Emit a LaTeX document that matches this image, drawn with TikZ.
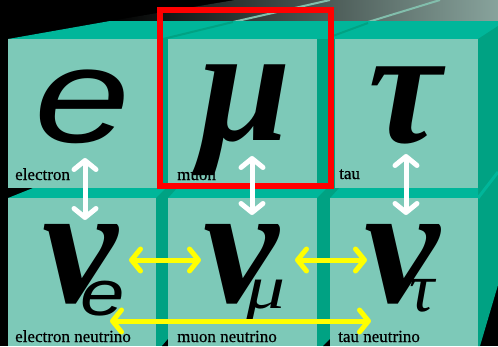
\documentclass[tikz,border=0pt]{standalone}
\usepackage{fontspec}
\setmainfont{Liberation Serif}
\newfontfamily\sansfam{Liberation Sans}
\usetikzlibrary{arrows.meta}
\definecolor{facec}{RGB}{125,201,184}
\definecolor{topc}{RGB}{0,182,154}
\definecolor{sidec}{RGB}{0,162,131}
\definecolor{grayc}{RGB}{136,163,156}
\definecolor{lightline}{RGB}{130,190,172}
\definecolor{yel}{RGB}{255,255,0}
\newcommand{\bignu}{\makebox[0pt]{\bfseries\itshape\fontsize{170}{170}\selectfont ν}}
\tikzset{
  face/.style={fill=facec},
  glyph/.style={inner sep=0pt,anchor=base},
  nuglyph/.style={inner sep=0pt,anchor=base west},
  lbl/.style={inner sep=0pt,anchor=base west,font=\fontsize{17}{17}\selectfont\addfontfeature{FakeBold=0.6}},
  whitearrow/.style={draw=white,line width=5pt,{Straight Barb[length=9pt,width=22pt,line cap=round,line join=round]}-{Straight Barb[length=9pt,width=22pt,line cap=round,line join=round]}},
  yelarrow/.style={draw=yel,line width=5pt,{Straight Barb[length=9pt,width=22pt,line cap=round,line join=round]}-{Straight Barb[length=9pt,width=22pt,line cap=round,line join=round]}}
}
\begin{document}
\begin{tikzpicture}[x=1pt,y=-1pt]
\useasboundingbox (0,0) rectangle (498,346);
\fill[black] (0,0) rectangle (498,346);
\shade[left color=black,right color=grayc] (110,21) -- (235,0) -- (498,0) -- (498,21) -- cycle;
\draw[lightline,line width=2pt] (233,22) -- (330,0);
\draw[lightline,line width=2pt] (368,22) -- (440,0);
\fill[topc] (8,39) -- (110,21) -- (498,21) -- (498,39) -- cycle;
\draw[sidec,line width=2pt] (163,39) -- (233,22);
\draw[sidec,line width=2pt] (330,37) -- (368,23);
\fill[sidec] (478,39) -- (498,26) -- (498,285) -- (480,346) -- (478,346) -- cycle;
\draw[topc,line width=3pt] (478,198) -- (498,172);
\fill[topc] (33,188) -- (478,188) -- (478,198) -- (8,198) -- cycle;
\fill[sidec] (157,39) rectangle (168,188);
\fill[sidec] (317,39) rectangle (335,188);
\fill[sidec] (156,198) -- (168,198) -- (177,188) -- (166,188) -- cycle;
\fill[sidec] (317,198) -- (330,198) -- (339,188) -- (327,188) -- cycle;
\fill[sidec] (156,198) rectangle (168,346);
\fill[sidec] (317,198) rectangle (330,346);
\fill[black] (162,346) -- (168,339) -- (168,346) -- cycle;
\fill[black] (323,346) -- (330,339) -- (330,346) -- cycle;
\fill[face] (8,39) rectangle (157,188);
\fill[face] (168,39) rectangle (317,188);
\fill[face] (335,39) rectangle (478,188);
\fill[face] (8,198) rectangle (156,346);
\fill[face] (168,198) rectangle (317,346);
\fill[face] (330,198) rectangle (478,346);
\node[glyph,xscale=1.28] (e) at (83,142) {\sansfam\itshape\fontsize{135}{135}\selectfont e};
\node[glyph] (mu) at (245,140) {\bfseries\itshape\fontsize{165}{165}\selectfont μ};
\node[glyph] (tau) at (405,142) {\bfseries\itshape\fontsize{165}{165}\selectfont τ};
\node[nuglyph] (nue) at (80,302) {\bignu\hspace{23pt}\makebox[0pt]{\raisebox{-13pt}{\scalebox{1.25}[1]{\sansfam\itshape\fontsize{64}{64}\selectfont e}}}};
\node[nuglyph] (num) at (241,302) {\bignu\hspace{25pt}\makebox[0pt]{\raisebox{-6pt}{\scalebox{1.25}[1]{\itshape\fontsize{62}{62}\selectfont μ}}}};
\node[nuglyph] (nut) at (402,302) {\bignu\hspace{20pt}\makebox[0pt]{\raisebox{-9pt}{\itshape\fontsize{70}{70}\selectfont τ}}};
\node[lbl] (l1) at (15,180) {electron};
\node[lbl] (l2) at (177,180) {muon};
\node[lbl] (l3) at (339,179) {tau};
\node[lbl] (l4) at (15,342) {electron neutrino};
\node[lbl] (l5) at (177,342) {muon neutrino};
\node[lbl] (l6) at (338,342) {tau neutrino};
\node[draw=red,line width=5.5pt,inner sep=0pt,minimum width=171pt,minimum height=176pt] (box) at (245.5,98) {};
\coordinate (a1t) at (85,158);
\coordinate (a1b) at (85,220);
\coordinate (a2t) at (252,156);
\coordinate (a2b) at (252,215);
\coordinate (a3t) at (406,154);
\coordinate (a3b) at (406,215);
\coordinate (y1l) at (129,260);
\coordinate (y1r) at (201,260);
\coordinate (y2l) at (295,260);
\coordinate (y2r) at (367,260);
\coordinate (y3l) at (110,321);
\coordinate (y3r) at (371,321);
\draw[whitearrow] (a1t) -- (a1b);
\draw[whitearrow] (a2t) -- (a2b);
\draw[whitearrow] (a3t) -- (a3b);
\draw[yelarrow] (y1l) -- (y1r);
\draw[yelarrow] (y2l) -- (y2r);
\draw[yelarrow] (y3l) -- (y3r);
\end{tikzpicture}
\end{document}
